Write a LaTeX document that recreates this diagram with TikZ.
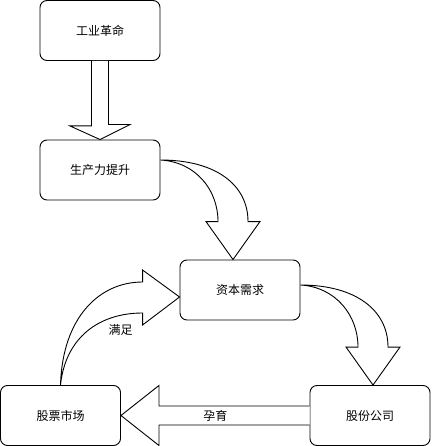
\documentclass[tikz,border=0pt]{standalone}
\usepackage{fontspec}
\newfontfamily\cjk{Noto Sans CJK SC}
\usetikzlibrary{calc}
\tikzset{
  box/.style={draw, fill=white, rounded corners=7pt, minimum width=120pt, minimum height=60pt, inner sep=0pt, line width=0.9pt, font=\cjk\fontsize{12}{14}\selectfont},
  fat/.style={draw, fill=white, line width=0.9pt, line join=miter},
  lbl/.style={font=\cjk\fontsize{12}{14}\selectfont, inner sep=0pt}
}
\begin{document}
\begin{tikzpicture}[x=1pt, y=-1pt]
\useasboundingbox (0,0) rectangle (431,446);
\node[box] (b1) at (100,30.5) {工业革命};
\node[box] (b2) at (100,170) {生产力提升};
\node[box] (b3) at (240,290) {资本需求};
\node[box] (b4) at (370,415.5) {股份公司};
\node[box] (b5) at (60.5,415.5) {股票市场};
% arrow 1: straight down
\draw[fat] ($(b1.south)+(-8.5,0)$) -- ++(0,65) -- ++(-21.5,0) -- (b2.north) -- ++(30,-15) -- ++(-21.5,0) -- ($(b1.south)+(8.5,0)$);
% arrow 2: curved
\coordinate (s2) at ($(b2.east)+(0,-10)$);
\coordinate (t2) at ($(b3.north)+(-7,0)$);
\draw[fat] (s2) .. controls ($(s2)+(55,0)$) and ($(t2)+(15,-75)$) .. ($(t2)+(15,-38)$) -- ++(12,0) -- (t2) -- ($(t2)+(-27,-38)$) -- ++(12,0) .. controls ($(t2)+(-15,-70)$) and ($(s2)+(35,2)$) .. (s2) -- cycle;
% arrow 3: curved
\coordinate (s3) at ($(b3.east)+(0,-5)$);
\coordinate (t3) at ($(b4.north)+(3,0)$);
\draw[fat] (s3) .. controls ($(s3)+(55,0)$) and ($(t3)+(15,-75)$) .. ($(t3)+(15,-38)$) -- ++(12,0) -- (t3) -- ($(t3)+(-27,-38)$) -- ++(12,0) .. controls ($(t3)+(-15,-70)$) and ($(s3)+(35,2)$) .. (s3) -- cycle;
% arrow 4: straight left
\draw[fat] ($(b4.west)+(0,-9.5)$) -- ($(b5.east)+(38,-9.5)$) -- ++(0,-20.5) -- (b5.east) -- ($(b5.east)+(38,30)$) -- ++(0,-20.5) -- ($(b4.west)+(0,9.5)$);
\node[lbl] (l4) at ($(b4.west)!0.5!(b5.east)$) {孕育};
% arrow 5: curved up
\coordinate (s5) at (b5.north);
\coordinate (t5) at ($(b3.west)+(0,7)$);
\draw[fat] (s5) .. controls ($(s5)+(2,-68)$) and ($(t5)+(-80,-15)$) .. ($(t5)+(-37,-15)$) -- ++(0,-12) -- (t5) -- ($(t5)+(-37,28)$) -- ++(0,-12) .. controls ($(t5)+(-80,16)$) and ($(s5)+(5,-48)$) .. (s5) -- cycle;
\node[lbl] (l5) at (120.5,330) {满足};
\end{tikzpicture}
\end{document}
